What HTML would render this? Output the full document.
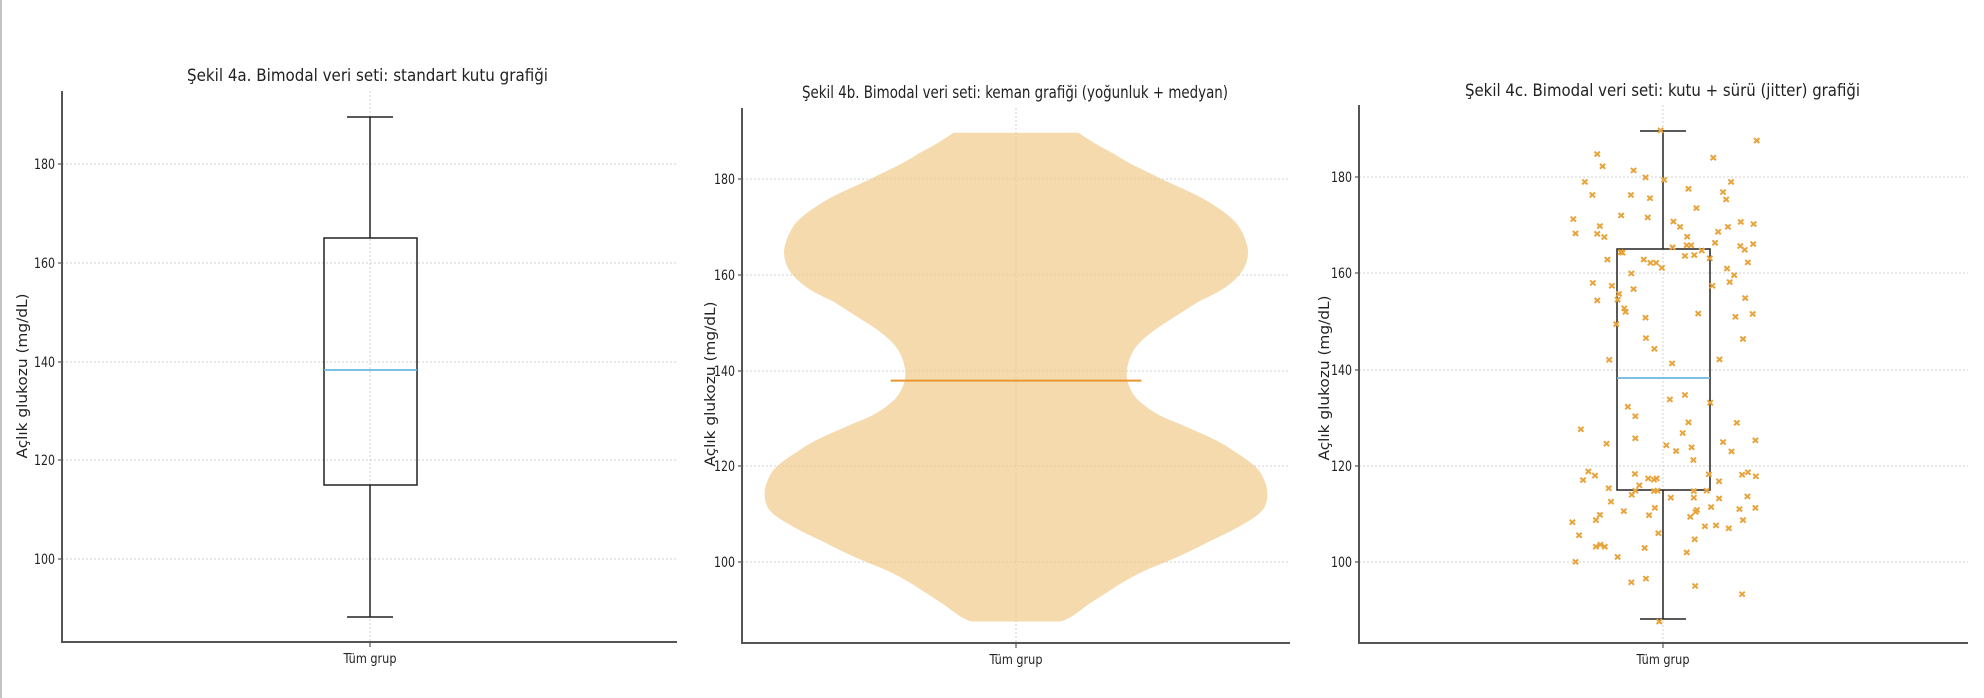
<!DOCTYPE html>
<html><head><meta charset="utf-8"><style>
html,body{margin:0;padding:0;background:#fff;}
svg{display:block;}
text{font-family:"DejaVu Sans Condensed","Liberation Sans",sans-serif;fill:#222;}
.tk{font-size:14px;text-anchor:end;}
.yl{font-family:"DejaVu Sans","Liberation Sans",sans-serif;font-size:14px;text-anchor:middle;}
.tt{font-size:17px;}
.xl{font-size:13px;text-anchor:middle;}
.g{stroke:#d2d2d2;stroke-width:1;stroke-dasharray:2,2;}
.ax{stroke:#555;stroke-width:2;fill:none;}
.bx{stroke:#222;stroke-width:1.5;fill:none;}
</style></head><body>
<svg width="1984" height="698" viewBox="0 0 1984 698" xmlns="http://www.w3.org/2000/svg">
<rect x="0" y="0" width="2" height="698" fill="#c4c4c4"/>
<defs>
<g id="m"><path d="M-6,-6 L6,6 M-6,6 L6,-6" stroke="#e8a33a" stroke-width="2" vector-effect="non-scaling-stroke" fill="none"/></g>
</defs>

<!-- Panel A -->
<text class="tt" x="187" y="81" textLength="361" lengthAdjust="spacingAndGlyphs">Şekil 4a. Bimodal veri seti: standart kutu grafiği</text>
<g>
<line class="g" x1="62" x2="677" y1="164" y2="164"/><line class="g" x1="62" x2="677" y1="263" y2="263"/><line class="g" x1="62" x2="677" y1="362" y2="362"/><line class="g" x1="62" x2="677" y1="460" y2="460"/><line class="g" x1="62" x2="677" y1="559" y2="559"/>
<line class="g" x1="370" x2="370" y1="91" y2="642"/>
<text class="tk" x="55" y="169" textLength="21" lengthAdjust="spacingAndGlyphs">180</text><text class="tk" x="55" y="268" textLength="21" lengthAdjust="spacingAndGlyphs">160</text><text class="tk" x="55" y="367" textLength="21" lengthAdjust="spacingAndGlyphs">140</text><text class="tk" x="55" y="465" textLength="21" lengthAdjust="spacingAndGlyphs">120</text><text class="tk" x="55" y="564" textLength="21" lengthAdjust="spacingAndGlyphs">100</text>
<g stroke="#333"><line x1="58" x2="62" y1="164" y2="164"/><line x1="58" x2="62" y1="263" y2="263"/><line x1="58" x2="62" y1="362" y2="362"/><line x1="58" x2="62" y1="460" y2="460"/><line x1="58" x2="62" y1="559" y2="559"/><line x1="370" x2="370" y1="642" y2="647"/></g>
<line class="bx" x1="370" x2="370" y1="117" y2="238"/><line class="bx" x1="370" x2="370" y1="485" y2="617"/>
<line class="bx" x1="347" x2="393" y1="117" y2="117"/><line class="bx" x1="347" x2="393" y1="617" y2="617"/>
<rect class="bx" x="324" y="238" width="93" height="247"/>
<line x1="324" x2="417" y1="370" y2="370" stroke="#6bb7e0" stroke-width="1.8"/>
<path class="ax" d="M62,91 V642 H677"/>
<text class="yl" transform="translate(27,376) rotate(-90)" textLength="165" lengthAdjust="spacingAndGlyphs">Açlık glukozu (mg/dL)</text>
<text class="xl" x="370" y="663" textLength="53" lengthAdjust="spacingAndGlyphs">Tüm grup</text>
</g>

<!-- Panel B -->
<text class="tt" x="802" y="98" textLength="426" lengthAdjust="spacingAndGlyphs">Şekil 4b. Bimodal veri seti: keman grafiği (yoğunluk + medyan)</text>
<g>
<line class="g" x1="742" x2="1290" y1="179" y2="179"/><line class="g" x1="742" x2="1290" y1="275" y2="275"/><line class="g" x1="742" x2="1290" y1="371" y2="371"/><line class="g" x1="742" x2="1290" y1="466" y2="466"/><line class="g" x1="742" x2="1290" y1="562" y2="562"/>
<line class="g" x1="1016" x2="1016" y1="108" y2="643"/>
<text class="tk" x="735" y="184" textLength="21" lengthAdjust="spacingAndGlyphs">180</text><text class="tk" x="735" y="280" textLength="21" lengthAdjust="spacingAndGlyphs">160</text><text class="tk" x="735" y="376" textLength="21" lengthAdjust="spacingAndGlyphs">140</text><text class="tk" x="735" y="471" textLength="21" lengthAdjust="spacingAndGlyphs">120</text><text class="tk" x="735" y="567" textLength="21" lengthAdjust="spacingAndGlyphs">100</text>
<g stroke="#333"><line x1="738" x2="742" y1="179" y2="179"/><line x1="738" x2="742" y1="275" y2="275"/><line x1="738" x2="742" y1="371" y2="371"/><line x1="738" x2="742" y1="466" y2="466"/><line x1="738" x2="742" y1="562" y2="562"/><line x1="1016" x2="1016" y1="643" y2="648"/></g>
<g transform="translate(698,60) scale(0.3855,0.409)">
<path fill="#f0c987" fill-opacity="0.68" d="M987,178 C1030,205 1050,215 1080,230 C1130,260 1160,270 1200,290 C1270,320 1300,332 1330,350 C1380,380 1395,395 1405,410 C1425,440 1427,467 1427,467 C1427,495 1415,515 1400,530 C1370,560 1340,572 1300,590 C1250,620 1230,632 1200,650 C1160,675 1140,695 1130,710 C1115,735 1112,755 1112,770 C1112,790 1125,815 1140,830 C1180,865 1210,875 1250,890 C1310,915 1350,930 1380,950 C1430,980 1450,995 1460,1010 C1475,1035 1477,1050 1477,1062 C1477,1090 1465,1105 1440,1120 C1400,1145 1360,1162 1320,1180 C1260,1210 1220,1225 1180,1240 C1130,1260 1105,1275 1080,1290 C1040,1315 1020,1325 1000,1340 C975,1358 960,1368 940,1373 L710,1373 C690,1368 675,1358 650,1340 C630,1325 610,1315 570,1290 C545,1275 520,1260 470,1240 C430,1225 390,1210 330,1180 C290,1162 250,1145 210,1120 C185,1105 173,1090 173,1062 C173,1050 175,1035 190,1010 C200,995 220,980 270,950 C300,930 340,915 400,890 C440,875 470,865 510,830 C525,815 538,790 538,770 C538,755 535,735 520,710 C510,695 490,675 450,650 C420,632 400,620 350,590 C310,572 280,560 250,530 C235,515 223,495 223,467 C223,467 225,440 245,410 C255,395 270,380 320,350 C350,332 380,320 450,290 C490,270 520,260 570,230 C600,215 620,205 663,178 Z"/>
<line x1="500" x2="1150" y1="784" y2="784" stroke="#e8962e" stroke-width="2" vector-effect="non-scaling-stroke"/>
</g>
<path class="ax" d="M742,108 V643 H1290"/>
<text class="yl" transform="translate(715,384) rotate(-90)" textLength="165" lengthAdjust="spacingAndGlyphs">Açlık glukozu (mg/dL)</text>
<text class="xl" x="1016" y="664" textLength="53" lengthAdjust="spacingAndGlyphs">Tüm grup</text>
</g>

<!-- Panel C -->
<text class="tt" x="1465" y="96" textLength="395" lengthAdjust="spacingAndGlyphs">Şekil 4c. Bimodal veri seti: kutu + sürü (jitter) grafiği</text>
<g>
<line class="g" x1="1359" x2="1968" y1="177" y2="177"/><line class="g" x1="1359" x2="1968" y1="273" y2="273"/><line class="g" x1="1359" x2="1968" y1="370" y2="370"/><line class="g" x1="1359" x2="1968" y1="466" y2="466"/><line class="g" x1="1359" x2="1968" y1="562" y2="562"/>
<line class="g" x1="1663" x2="1663" y1="105" y2="643"/>
<text class="tk" x="1352" y="182" textLength="21" lengthAdjust="spacingAndGlyphs">180</text><text class="tk" x="1352" y="278" textLength="21" lengthAdjust="spacingAndGlyphs">160</text><text class="tk" x="1352" y="375" textLength="21" lengthAdjust="spacingAndGlyphs">140</text><text class="tk" x="1352" y="471" textLength="21" lengthAdjust="spacingAndGlyphs">120</text><text class="tk" x="1352" y="567" textLength="21" lengthAdjust="spacingAndGlyphs">100</text>
<g stroke="#333"><line x1="1355" x2="1359" y1="177" y2="177"/><line x1="1355" x2="1359" y1="273" y2="273"/><line x1="1355" x2="1359" y1="370" y2="370"/><line x1="1355" x2="1359" y1="466" y2="466"/><line x1="1355" x2="1359" y1="562" y2="562"/><line x1="1663" x2="1663" y1="643" y2="648"/></g>
<line class="bx" x1="1663" x2="1663" y1="131" y2="249"/><line class="bx" x1="1663" x2="1663" y1="490" y2="619"/>
<line class="bx" x1="1640" x2="1686" y1="131" y2="131"/><line class="bx" x1="1640" x2="1686" y1="619" y2="619"/>
<rect class="bx" x="1617" y="249" width="93" height="241"/>
<line x1="1617" x2="1710" y1="378" y2="378" stroke="#6bb7e0" stroke-width="1.8"/>
<g transform="translate(1296,60) scale(0.443,0.409)">
<use href="#m" x="823" y="172"/><use href="#m" x="1040" y="197"/><use href="#m" x="680" y="230"/><use href="#m" x="692" y="260"/><use href="#m" x="942" y="239"/><use href="#m" x="762" y="270"/><use href="#m" x="652" y="298"/><use href="#m" x="789" y="287"/><use href="#m" x="831" y="293"/><use href="#m" x="982" y="298"/><use href="#m" x="669" y="330"/><use href="#m" x="756" y="330"/><use href="#m" x="799" y="338"/><use href="#m" x="886" y="315"/><use href="#m" x="964" y="323"/><use href="#m" x="971" y="341"/><use href="#m" x="904" y="362"/><use href="#m" x="626" y="389"/><use href="#m" x="734" y="380"/><use href="#m" x="794" y="385"/><use href="#m" x="631" y="424"/><use href="#m" x="686" y="406"/><use href="#m" x="680" y="425"/><use href="#m" x="696" y="433"/><use href="#m" x="852" y="395"/><use href="#m" x="867" y="408"/><use href="#m" x="883" y="432"/><use href="#m" x="1004" y="396"/><use href="#m" x="1033" y="401"/><use href="#m" x="975" y="408"/><use href="#m" x="953" y="420"/><use href="#m" x="946" y="447"/><use href="#m" x="1003" y="455"/><use href="#m" x="1013" y="464"/><use href="#m" x="1032" y="450"/><use href="#m" x="703" y="488"/><use href="#m" x="733" y="470"/><use href="#m" x="737" y="471"/><use href="#m" x="785" y="488"/><use href="#m" x="800" y="496"/><use href="#m" x="813" y="496"/><use href="#m" x="826" y="508"/><use href="#m" x="850" y="458"/><use href="#m" x="878" y="479"/><use href="#m" x="882" y="453"/><use href="#m" x="892" y="453"/><use href="#m" x="899" y="477"/><use href="#m" x="916" y="466"/><use href="#m" x="934" y="485"/><use href="#m" x="1020" y="495"/><use href="#m" x="973" y="510"/><use href="#m" x="989" y="526"/><use href="#m" x="757" y="522"/><use href="#m" x="670" y="545"/><use href="#m" x="713" y="552"/><use href="#m" x="729" y="572"/><use href="#m" x="762" y="560"/><use href="#m" x="940" y="552"/><use href="#m" x="979" y="543"/><use href="#m" x="680" y="588"/><use href="#m" x="726" y="586"/><use href="#m" x="741" y="607"/><use href="#m" x="744" y="616"/><use href="#m" x="1014" y="582"/><use href="#m" x="1031" y="621"/><use href="#m" x="789" y="630"/><use href="#m" x="992" y="628"/><use href="#m" x="908" y="620"/><use href="#m" x="723" y="646"/><use href="#m" x="790" y="680"/><use href="#m" x="1009" y="682"/><use href="#m" x="809" y="706"/><use href="#m" x="707" y="733"/><use href="#m" x="849" y="742"/><use href="#m" x="956" y="732"/><use href="#m" x="935" y="838"/><use href="#m" x="749" y="848"/><use href="#m" x="766" y="871"/><use href="#m" x="844" y="830"/><use href="#m" x="878" y="819"/><use href="#m" x="886" y="886"/><use href="#m" x="873" y="912"/><use href="#m" x="995" y="887"/><use href="#m" x="643" y="903"/><use href="#m" x="766" y="925"/><use href="#m" x="701" y="938"/><use href="#m" x="836" y="942"/><use href="#m" x="858" y="956"/><use href="#m" x="893" y="947"/><use href="#m" x="897" y="978"/><use href="#m" x="964" y="934"/><use href="#m" x="983" y="957"/><use href="#m" x="1037" y="930"/><use href="#m" x="660" y="1006"/><use href="#m" x="648" y="1027"/><use href="#m" x="675" y="1016"/><use href="#m" x="765" y="1012"/><use href="#m" x="795" y="1023"/><use href="#m" x="808" y="1026"/><use href="#m" x="814" y="1023"/><use href="#m" x="955" y="1030"/><use href="#m" x="932" y="1013"/><use href="#m" x="1007" y="1014"/><use href="#m" x="1020" y="1008"/><use href="#m" x="1038" y="1018"/><use href="#m" x="706" y="1047"/><use href="#m" x="775" y="1040"/><use href="#m" x="766" y="1053"/><use href="#m" x="758" y="1063"/><use href="#m" x="808" y="1054"/><use href="#m" x="816" y="1053"/><use href="#m" x="846" y="1070"/><use href="#m" x="898" y="1070"/><use href="#m" x="898" y="1054"/><use href="#m" x="927" y="1053"/><use href="#m" x="955" y="1072"/><use href="#m" x="1019" y="1067"/><use href="#m" x="711" y="1080"/><use href="#m" x="740" y="1103"/><use href="#m" x="810" y="1095"/><use href="#m" x="905" y="1100"/><use href="#m" x="902" y="1105"/><use href="#m" x="890" y="1117"/><use href="#m" x="937" y="1093"/><use href="#m" x="1001" y="1098"/><use href="#m" x="1037" y="1095"/><use href="#m" x="624" y="1130"/><use href="#m" x="686" y="1112"/><use href="#m" x="677" y="1125"/><use href="#m" x="797" y="1113"/><use href="#m" x="923" y="1140"/><use href="#m" x="948" y="1138"/><use href="#m" x="977" y="1145"/><use href="#m" x="1009" y="1125"/><use href="#m" x="639" y="1162"/><use href="#m" x="818" y="1157"/><use href="#m" x="900" y="1172"/><use href="#m" x="677" y="1190"/><use href="#m" x="687" y="1185"/><use href="#m" x="697" y="1190"/><use href="#m" x="787" y="1193"/><use href="#m" x="726" y="1215"/><use href="#m" x="882" y="1204"/><use href="#m" x="631" y="1227"/><use href="#m" x="757" y="1277"/><use href="#m" x="790" y="1268"/><use href="#m" x="901" y="1286"/><use href="#m" x="1007" y="1306"/><use href="#m" x="820" y="1373"/>
</g>
<path class="ax" d="M1359,105 V643 H1968"/>
<text class="yl" transform="translate(1329,378) rotate(-90)" textLength="165" lengthAdjust="spacingAndGlyphs">Açlık glukozu (mg/dL)</text>
<text class="xl" x="1663" y="664" textLength="53" lengthAdjust="spacingAndGlyphs">Tüm grup</text>
</g>
</svg>
</body></html>
